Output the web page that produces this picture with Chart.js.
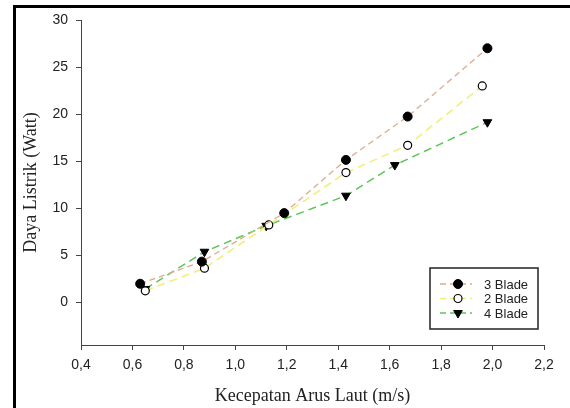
<!DOCTYPE html>
<html lang="id">
<head>
  <meta charset="UTF-8">
  <title>Daya Listrik vs Kecepatan Arus Laut</title>
  <script src="https://cdn.jsdelivr.net/npm/chart.js"></script>
  <style>
    html, body { margin: 0; padding: 0; background: #fff; }
    #wrap { position: relative; width: 570px; height: 408px; overflow: hidden; }
    #frame { position: absolute; left: 13px; top: 5px; width: 600px; height: 500px;
             border-left: 3px solid #000; border-top: 3px solid #000; pointer-events: none; }
  </style>
</head>
<body>
<div id="wrap">
  <canvas id="grafik" width="570" height="408"></canvas>
  <div id="frame"></div>
</div>

<script>
  // data
  const kecepatan3 = [0.63, 0.87, 1.19, 1.43, 1.67, 1.98];
  const daya3      = [2.0, 4.35, 9.5, 15.15, 19.75, 27.0];
  const kecepatan2 = [0.65, 0.88, 1.13, 1.43, 1.67, 1.96];
  const daya2      = [1.25, 3.65, 8.25, 13.8, 16.7, 23.0];
  const kecepatan4 = [0.65, 0.88, 1.12, 1.43, 1.62, 1.98];
  const daya4      = [1.45, 5.4, 8.15, 11.35, 14.6, 19.15];
  const labelSeri  = ['3 Blade', '2 Blade', '4 Blade'];

  const titik = (xs, ys) => xs.map((x, i) => ({ x, y: ys[i] }));

  // legenda di dalam area plot (garis putus + penanda + teks)
  const legendaDalam = {
    id: 'legendaDalam',
    afterDraw(chart) {
      const ctx = chart.ctx;
      const area = chart.chartArea;
      const w = 108, h = 61;
      const x0 = area.right - 6 - w, y0 = area.bottom - 16 - h;
      ctx.save();
      ctx.fillStyle = '#fff';
      ctx.fillRect(x0, y0, w, h);
      ctx.strokeStyle = '#222';
      ctx.lineWidth = 1.5;
      ctx.strokeRect(x0, y0, w, h);
      chart.data.datasets.forEach((ds, i) => {
        const y = y0 + 16 + i * 14.5;
        ctx.strokeStyle = ds.borderColor;
        ctx.lineWidth = 1.3;
        ctx.setLineDash([6, 4]);
        ctx.beginPath();
        ctx.moveTo(x0 + 10, y);
        ctx.lineTo(x0 + 42, y);
        ctx.stroke();
        ctx.setLineDash([]);
        ctx.fillStyle = ds.pointBackgroundColor;
        ctx.strokeStyle = ds.pointBorderColor;
        ctx.lineWidth = ds.pointBorderWidth;
        Chart.helpers.drawPoint(ctx, {
          pointStyle: ds.pointStyle,
          radius: ds.pointRadius,
          rotation: ds.pointRotation || 0,
          borderWidth: ds.pointBorderWidth
        }, x0 + 28, y);
        ctx.fillStyle = '#222';
        ctx.font = '13px "Liberation Sans", Arial, sans-serif';
        ctx.textBaseline = 'middle';
        ctx.fillText(ds.label, x0 + 54, y + 1);
      });
      ctx.restore();
    }
  };

  const tickFont = { family: '"Liberation Sans", Arial, sans-serif', size: 14 };
  const titleFont = { family: '"Liberation Serif", "Times New Roman", serif', size: 18 };

  new Chart(document.getElementById('grafik'), {
    type: 'scatter',
    data: {
      datasets: [
        {
          label: labelSeri[0],
          data: titik(kecepatan3, daya3),
          showLine: true,
          borderColor: '#dcaa8e',
          borderWidth: 1.3,
          borderDash: [6, 4],
          pointStyle: 'circle',
          pointRadius: 4.5,
          pointBackgroundColor: '#000',
          pointBorderColor: '#000',
          pointBorderWidth: 1
        },
        {
          label: labelSeri[1],
          data: titik(kecepatan2, daya2),
          showLine: true,
          borderColor: '#f2ee7c',
          borderWidth: 1.6,
          borderDash: [8, 5],
          pointStyle: 'circle',
          pointRadius: 4,
          pointBackgroundColor: '#fff',
          pointBorderColor: '#000',
          pointBorderWidth: 1.2
        },
        {
          label: labelSeri[2],
          data: titik(kecepatan4, daya4),
          showLine: true,
          borderColor: '#5ec65a',
          borderWidth: 1.5,
          borderDash: [8, 5],
          pointStyle: 'triangle',
          pointRotation: 180,
          pointRadius: 5,
          pointBackgroundColor: '#000',
          pointBorderColor: '#000',
          pointBorderWidth: 1
        }
      ]
    },
    options: {
      responsive: false,
      animation: false,
      layout: { padding: { top: 20, right: 26, left: 14, bottom: 0 } },
      plugins: {
        legend: { display: false },
        tooltip: { enabled: false }
      },
      scales: {
        x: {
          type: 'linear',
          min: 0.4,
          max: 2.2,
          afterFit: s => { s.height = 63; },
          border: { display: true, color: '#444', width: 1 },
          grid: { drawOnChartArea: false, drawTicks: true, tickLength: 5, color: '#444' },
          ticks: {
            stepSize: 0.2,
            padding: 7,
            color: '#222',
            font: tickFont,
            maxRotation: 0,
            callback: v => v.toFixed(1).replace('.', ',')
          },
          title: {
            display: true,
            text: 'Kecepatan Arus Laut (m/s)',
            color: '#222',
            font: titleFont,
            padding: { top: 0, bottom: 1 }
          }
        },
        y: {
          type: 'linear',
          min: -4.5,
          max: 30,
          afterFit: s => { s.width = 67; },
          afterBuildTicks: s => { s.ticks = s.ticks.filter(t => t.value >= 0); },
          border: { display: true, color: '#444', width: 1 },
          grid: { drawOnChartArea: false, drawTicks: true, tickLength: 5, color: '#444' },
          ticks: {
            stepSize: 5,
            padding: 8,
            color: '#222',
            font: tickFont
          },
          title: {
            display: true,
            text: 'Daya Listrik (Watt)',
            color: '#222',
            font: titleFont,
            padding: { top: 6, bottom: 0 }
          }
        }
      }
    },
    plugins: [legendaDalam]
  });
</script>
</body>
</html>
